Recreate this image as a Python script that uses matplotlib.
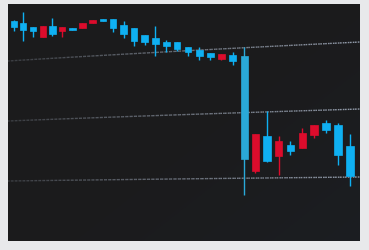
import numpy as np
import matplotlib
matplotlib.use("Agg")
import matplotlib.pyplot as plt
from matplotlib.collections import LineCollection

# candle data (price units), blue = falling, red = rising
opens = [278, 276, 272, 262, 273, 268, 271, 271, 276, 280,
         280, 274, 271, 264, 261, 257, 257, 252, 249, 246,
         240, 244, 243, 128, 163, 143, 154, 151, 164, 176,
         174, 153]
closes = [272, 269, 268, 273, 265, 272, 269, 276, 279, 278,
          271, 265, 258, 257, 255, 253, 250, 247, 243, 242,
          245, 238, 140, 165, 138, 158, 148, 166, 174, 169,
          144, 123]
highs = [279, 287, 272, 273, 281, 272, 271, 276, 279, 280,
         280, 278, 271, 264, 273, 259, 257, 252, 252, 246,
         245, 247, 252, 165, 188, 163, 158, 171, 174, 179,
         176, 165]
lows = [268, 258, 262, 262, 263, 262, 269, 271, 276, 278,
        267, 261, 253, 254, 243, 247, 248, 243, 239, 239,
        239, 234, 104, 126, 137, 124, 144, 151, 161, 166,
        134, 113]

# slanted trend lines (price at left edge, price at right edge)
trend_left = [238, 178, 118]
trend_right = [257, 190, 122]

blue = "#0fb0f2"
blue_big = "#2aa9d8"
red = "#dc0c2c"

# mild perspective along the time axis
k = 0.0045
def fwd(x):
    x = np.asarray(x, dtype=float)
    return x + k * x ** 2
def inv(y):
    y = np.asarray(y, dtype=float)
    return (-1 + np.sqrt(np.clip(1 + 4 * k * y, 0, None))) / (2 * k)

fig = plt.figure(figsize=(3.69, 2.51), dpi=100, facecolor="#e8e9eb")
ax = fig.add_axes([8 / 369, 9 / 251, 352 / 369, 237 / 251])
ax.set_facecolor("#1b1b1c")
ax.set_xscale("function", functions=(fwd, inv))

# subtle bluish tint toward the lower right
grad = np.linspace(0, 1, 200)
gx, gy = np.meshgrid(grad, grad[::-1])
tint = np.clip((gx * 0.7 + (1 - gy) * 0.6) - 0.6, 0, 1)
rgba = np.zeros((200, 200, 4))
rgba[..., 0] = 0.12
rgba[..., 1] = 0.15
rgba[..., 2] = 0.2
rgba[..., 3] = tint * 0.35
ax.imshow(rgba, extent=[0, 1, 0, 1], transform=ax.transAxes, aspect="auto", zorder=0)

n = len(opens)
xs = np.arange(n)
ax.set_xlim(-0.6, n - 1 + 0.8)
ax.set_ylim(58, 295)

# trend lines, fading in from the left
for yl, yr in zip(trend_left, trend_right):
    tx = np.linspace(-0.6, n - 0.2, 80)
    ty = yl + (yr - yl) * (tx - tx[0]) / (tx[-1] - tx[0])
    pts = np.column_stack([tx, ty]).reshape(-1, 1, 2)
    segs = np.concatenate([pts[:-1], pts[1:]], axis=1)
    alphas = np.linspace(0.25, 0.9, len(segs))
    cols = [(0.62, 0.66, 0.72, a) for a in alphas]
    lc = LineCollection(segs, colors=cols, linewidths=1.0, linestyles=(0, (1.2, 0.8)), zorder=1)
    ax.add_collection(lc)

bodies = np.abs(np.array(closes) - np.array(opens))
big = int(np.argmax(bodies))
for i in range(n):
    o, c, h, l = opens[i], closes[i], highs[i], lows[i]
    col = red if c > o else blue
    if i == big:
        col = blue_big
    ax.vlines(xs[i], l, h, color=col, linewidth=1.0, zorder=2)
    lo, hi = min(o, c), max(o, c)
    ax.bar(xs[i], max(hi - lo, 1.5), bottom=lo, width=0.62, color=col,
           edgecolor=col, linewidth=0.5, zorder=3)

ax.set_xticks([])
ax.set_yticks([])
for s in ax.spines.values():
    s.set_visible(False)

fig.savefig("out.png", dpi=100, facecolor=fig.get_facecolor())
